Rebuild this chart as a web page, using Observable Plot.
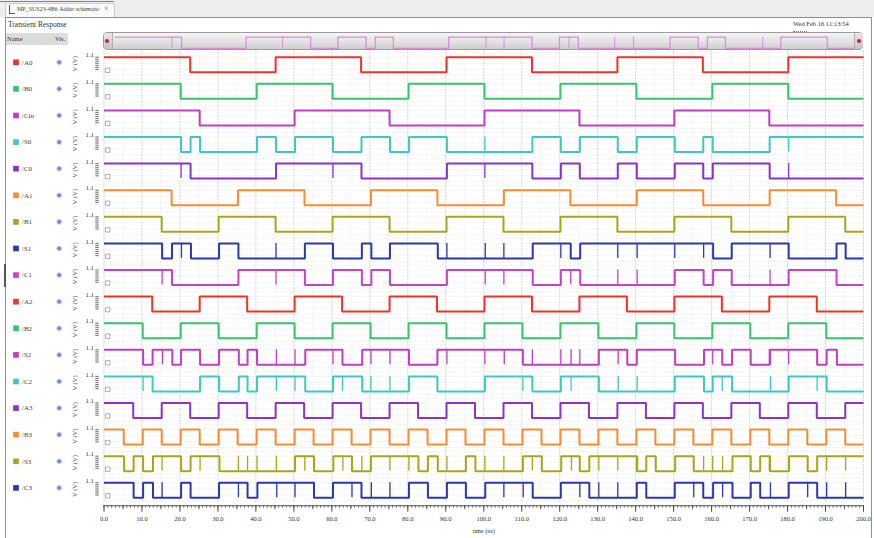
<!DOCTYPE html>
<html>
<head>
<meta charset="utf-8">
<script src="https://cdn.jsdelivr.net/npm/d3@7"></script>
<script src="https://cdn.jsdelivr.net/npm/@observablehq/plot@0.6"></script>
<style>
  html, body { margin: 0; padding: 0; background: #fff; }
  #page { position: relative; width: 874px; height: 538px; overflow: hidden; background: #fff;
          font-family: "Liberation Serif", "DejaVu Serif", serif; color: #333; }
  .a { position: absolute; white-space: nowrap; }
  #main, #over { position: absolute; left: 0; top: 0; }
</style>
</head>
<body>
<div id="page">
  <div class="a" style="left:0;top:0;width:874px;height:17px;background:#eeeeee;"></div>
  <div class="a" style="left:0;top:1px;width:114px;height:1px;background:#e05a5a;"></div>
  <div class="a" style="left:5px;top:3px;width:108px;height:14px;background:#fafafa;border:1px solid #cfcfcf;border-bottom:none;"></div>
  <div class="a" style="left:9px;top:5px;width:5px;height:8px;border-left:1.5px solid #555;border-bottom:1.5px solid #555;"></div>
  <div class="a" style="left:17px;top:6px;font-size:6px;color:#444;">MP_SUS23-4Bit Adder schematic</div>
  <div class="a" style="left:104px;top:4px;font-size:8px;color:#666;">×</div>
  <div class="a" style="left:5px;top:17px;width:865px;height:530px;border:1px solid #e36b6b;"></div>
  <div class="a" style="left:8px;top:20px;font-size:7.5px;color:#333;">Transient Response</div>
  <div class="a" style="left:793px;top:20px;font-size:6.5px;color:#333;">Wed Feb 16 11:13:54</div>
  <div class="a" style="left:793px;top:31px;width:14px;height:0;border-top:1px dotted #777;"></div>
  <div class="a" style="left:6px;top:33px;width:62px;height:12px;background:#dcdcdc;"></div>
  <div class="a" style="left:7px;top:35px;font-size:6.5px;color:#333;">Name</div>
  <div class="a" style="left:55px;top:35px;font-size:6.5px;color:#333;">Vis.</div>
  <div class="a" style="left:4px;top:264px;width:2px;height:23px;background:#555;"></div>
  <div id="main"></div>
  <div class="a" style="left:103px;top:32px;width:758px;height:16px;border:1px solid #9c9c9c;border-radius:4px;background:linear-gradient(#f4f4f4,#e2e2e2 55%,#cdcdcd);"></div>
  <div class="a" style="left:104px;top:33px;width:8px;height:16px;border-right:1px solid #b0b0b0;border-radius:3px 0 0 3px;background:linear-gradient(#e8e8e8,#c4c4c4);"></div>
  <div class="a" style="left:105px;top:39px;width:4px;height:4px;border-radius:2px;background:#d42020;"></div>
  <div class="a" style="left:854px;top:33px;width:8px;height:16px;border-left:1px solid #b0b0b0;border-radius:0 3px 3px 0;background:linear-gradient(#e8e8e8,#c4c4c4);"></div>
  <div class="a" style="left:857px;top:39px;width:4px;height:4px;border-radius:2px;background:#d42020;"></div>
  <div id="over"></div>
</div>
<script>
// ---- data (times in ns at which each signal toggles; all signals start at 1.1 V) ----
const vHigh = 1.1, vLow = 0, tEnd = 200;
const names = ["/A0","/B0","/Cin","/S0","/C0","/A1","/B1","/S1","/C1","/A2","/B2","/S2","/C2","/A3","/B3","/S3","/C3"];
const colors = ["#f1322c","#36c46c","#c23dc4","#3dc7c7","#8c33c9","#fc8a2e","#aba51e","#2c37b0",
                "#c942c6","#f1322c","#36c46c","#c23dc4","#3dc7c7","#8c33c9","#fc8a2e","#aba51e","#2c37b0"];

const edgesA0  = [22.7, 45.2, 67.7, 90.2, 112.7, 135.2, 157.7, 180.2];
const edgesB0  = [20.2, 40.2, 60.2, 80.2, 100.2, 120.2, 140.2, 160.2, 180.2];
const edgesCin = [25.2, 50.2, 75.2, 100.2, 125.2, 150.2, 175.2];
const edgesS0  = [20.3, 22.8, 25.3, 40.3, 45.3, 50.3, 60.3, 67.8, 75.3, 80.3, 90.3, 112.8, 120.3, 125.3, 135.3, 140.3, 150.3, 157.8, 160.3, 175.3];
const edgesC0  = [22.8, 45.3, 67.8, 90.3, 112.8, 120.3, 125.3, 135.3, 140.3, 150.3, 157.8, 160.3, 175.3];
const edgesA1  = [17.8, 35.3, 52.8, 70.3, 87.8, 105.3, 122.8, 140.3, 157.8, 175.3, 192.8];
const edgesB1  = [15.2, 30.2, 45.2, 60.2, 75.2, 90.2, 105.2, 120.2, 135.2, 150.2, 165.2, 180.2, 195.2];
const edgesS1  = [15.3, 17.9, 22.9, 30.3, 35.4, 52.9, 60.3, 67.9, 70.4, 75.3, 87.9, 112.9, 122.9, 125.4, 160.4, 165.3, 180.3, 192.9, 195.3];
const edgesC1  = [17.9, 35.4, 52.9, 60.3, 67.9, 70.4, 75.3, 90.3, 112.9, 120.3, 125.4, 150.3, 157.9, 160.4, 165.3, 180.3, 192.9];
const edgesA2  = [12.7, 25.2, 37.7, 50.2, 62.7, 75.2, 87.7, 100.2, 112.7, 125.2, 137.7, 150.2, 162.7, 175.2, 187.7];
const edgesB2  = [10.2, 20.2, 30.2, 40.2, 50.2, 60.2, 70.2, 80.2, 90.2, 100.2, 110.2, 120.2, 130.2, 140.2, 150.2, 160.2, 170.2, 180.2, 190.2];
const edgesS2  = [10.3, 12.8, 18.0, 20.3, 25.3, 30.3, 35.5, 37.8, 40.3, 53.0, 62.8, 68.0, 80.3, 87.8, 110.3, 130.3, 137.8, 140.3, 150.4, 158.0, 162.8, 165.4, 170.3, 175.3, 187.8, 190.3, 193.0];
const edgesC2  = [12.8, 25.3, 30.3, 35.5, 37.8, 40.3, 53.0, 60.3, 68.0, 80.3, 87.8, 100.3, 112.8, 120.3, 130.3, 150.3, 158.0, 160.3, 165.4, 180.3, 190.3];
const edgesA3  = [7.7, 15.2, 22.7, 30.2, 37.7, 45.2, 52.7, 60.2, 67.7, 75.2, 82.7, 90.2, 97.7, 105.2, 112.7, 120.2, 127.7, 135.2, 142.7, 150.2, 157.7, 165.2, 172.7, 180.2, 187.7, 195.2];
const edgesB3  = [5.2, 10.2, 15.2, 20.2, 25.2, 30.2, 35.2, 40.2, 45.2, 50.2, 55.2, 60.2, 65.2, 70.2, 75.2, 80.2, 85.2, 90.2, 95.2, 100.2,
                  105.2, 110.2, 115.2, 120.2, 125.2, 130.2, 135.2, 140.2, 145.2, 150.2, 155.2, 160.2, 165.2, 170.2, 175.2, 180.2, 185.2, 190.2, 195.2];
const edgesS3  = [5.3, 7.8, 10.3, 12.9, 20.3, 22.8, 30.4, 50.3, 55.3, 60.4, 65.3, 70.3, 82.8, 85.3, 87.9, 95.3, 97.8, 110.3, 115.3, 120.4,
                  125.3, 127.8, 140.3, 142.8, 145.3, 150.4, 155.3, 165.5, 170.3, 172.8, 175.3, 180.4, 185.3, 187.8];
const edgesC3  = [7.8, 10.3, 12.9, 20.3, 22.8, 30.3, 37.8, 40.4, 55.3, 60.3, 67.8, 80.3, 85.3, 90.3, 95.3, 100.4, 112.9, 120.3, 127.8, 140.3,
                  142.8, 150.3, 157.8, 160.4, 165.5, 170.3, 172.8, 180.3, 187.8];

// short glitch spikes (ns)
const glitchS0 = [100.3, 180.3];
const glitchC0 = [20.3, 60.3, 100.3, 180.3];
const glitchS1 = [20.4, 45.3, 90.3, 100.4, 105.3, 120.3, 135.3, 140.4, 150.3, 157.9, 175.4];
const glitchC1 = [15.3, 45.3, 100.4, 105.3, 122.9, 135.3, 140.4, 175.4];
const glitchS2 = [15.4, 45.4, 50.3, 60.3, 70.3, 75.3, 90.3, 100.3, 105.4, 112.8, 120.3, 123.0, 125.3, 135.4, 160.3, 175.5, 180.3];
const glitchC2 = [10.3, 45.4, 50.3, 62.8, 70.3, 75.3, 110.3, 123.0, 135.4, 140.4, 162.8, 175.5, 187.8];
const glitchS3 = [15.3, 25.3, 35.4, 37.8, 40.3, 45.4, 52.9, 62.9, 67.9, 75.3, 80.3, 90.3, 100.3, 105.3, 112.8, 123.1, 130.3, 135.3,
                  140.5, 157.9, 160.3, 162.9, 175.5, 190.3, 195.3];
const glitchC3 = [15.3, 35.4, 45.5, 50.3, 65.3, 70.4, 75.3, 105.3, 110.4, 125.3, 130.3, 135.3, 155.3, 162.9, 175.5, 185.3, 190.3, 195.3];

const xTicks = [0, 10, 20, 30, 40, 50, 60, 70, 80, 90, 100, 110, 120, 130, 140, 150, 160, 170, 180, 190, 200];
const midTicks = [5, 15, 25, 35, 45, 55, 65, 75, 85, 95, 105, 115, 125, 135, 145, 155, 165, 175, 185, 195];

// ---- assemble ----
const edges = [edgesA0, edgesB0, edgesCin, edgesS0, edgesC0, edgesA1, edgesB1, edgesS1, edgesC1,
               edgesA2, edgesB2, edgesS2, edgesC2, edgesA3, edgesB3, edgesS3, edgesC3];
const glitches = [[], [], [], glitchS0, glitchC0, [], [], glitchS1, glitchC1,
                  [], [], glitchS2, glitchC2, [], [], glitchS3, glitchC3];

function steps(name, color, list) {
  let v = vHigh;
  const pts = [{name, color, t: 0, v}];
  for (const t of list) { v = (v === vHigh) ? vLow : vHigh; pts.push({name, color, t, v}); }
  pts.push({name, color, t: tEnd, v});
  return pts;
}
const waveData = names.flatMap((n, i) => steps(n, colors[i], edges[i]));
const glitchData = names.flatMap((n, i) => glitches[i].map(t => ({name: n, color: colors[i], t})));
const rows = names.map((n, i) => ({name: n, color: colors[i]}));
const lastRow = [{name: names[names.length - 1]}];
const minorTicks = d3.range(0, 201, 1);
const yDomain = [-0.36, 1.59];
const font = "Liberation Serif";

const main = Plot.plot({
  width: 874, height: 538,
  marginTop: 50, marginBottom: 35.8, marginLeft: 103.5, marginRight: 11,
  style: {background: "transparent", fontFamily: font, fontSize: "7px", overflow: "visible"},
  x: {domain: [0, tEnd], axis: null},
  y: {domain: yDomain, axis: null},
  fy: {domain: names, padding: 0, round: false, axis: null},
  color: {type: "identity"},
  marks: [
    Plot.gridX({ticks: midTicks, stroke: "#e9e9e9", strokeOpacity: 1, strokeDasharray: "1,1.5"}),
    Plot.gridX({ticks: xTicks, stroke: "#d5d5d5", strokeOpacity: 1, strokeDasharray: "2,1"}),
    Plot.gridY({ticks: [-0.22, 0.22, 0.66, 1.1, 1.45], stroke: "#e3e3e3", strokeOpacity: 1, strokeDasharray: "1,2"}),
    Plot.axisY({ticks: [0.2, 0.35, 0.5, 0.65, 0.8, 0.95, 1.1], tickSize: 3.4, dx: -4.8, tickFormat: () => "",
                stroke: "#777", strokeWidth: 1.1, label: null}),
    Plot.text(rows, {fy: "name", frameAnchor: "top-left", text: () => "1.1", dx: -18.5, dy: 2,
                     fontSize: 6.8, fill: "#333", fontFamily: font}),
    Plot.text(rows, {fy: "name", frameAnchor: "left", text: () => "V (V)", rotate: -90, dx: -29.5,
                     textAnchor: "middle", lineAnchor: "middle", fontSize: 6.5, fill: "#555", fontFamily: font}),
    Plot.dot(rows, {fy: "name", frameAnchor: "left", dx: -88, dy: -1.5, symbol: "square", r: 3.2,
                    fill: d => d.color, stroke: null}),
    Plot.text(rows, {fy: "name", frameAnchor: "left", text: "name", dx: -82, dy: -1.5, textAnchor: "start",
                     fontSize: 7, fill: "#444", fontFamily: font}),
    Plot.dot(rows, {fy: "name", frameAnchor: "left", dx: -44.8, dy: -1.5, r: 2.4,
                    fill: "#6a8ed0", stroke: "#c6d3ee", strokeWidth: 1}),
    Plot.dot(rows, {fy: "name", frameAnchor: "top-left", dx: 3.7, dy: 19.7, symbol: "square", r: 2.5,
                    fill: "white", stroke: "#9a9a9a", strokeWidth: 0.8}),
    Plot.line(waveData, {fy: "name", x: "t", y: "v", z: "name", stroke: d => d.color,
                         curve: "step-after", strokeWidth: 2, strokeLinejoin: "miter", strokeLinecap: "butt"}),
    Plot.ruleX(glitchData, {fy: "name", x: "t", y1: vLow, y2: vHigh, stroke: d => d.color, strokeWidth: 1.3}),
    Plot.ruleY(lastRow, {fy: "name", y: yDomain[0], dy: 3, stroke: "#555", strokeWidth: 1}),
    Plot.axisX({ticks: minorTicks, tickSize: 2.5, dy: 3, tickFormat: () => "", stroke: "#666", label: null}),
    Plot.axisX({ticks: midTicks, tickSize: 4, dy: 3, tickFormat: () => "", stroke: "#555", label: null}),
    Plot.axisX({ticks: xTicks, tickSize: 6.5, tickPadding: 4.5, dy: 3, tickFormat: d3.format(".1f"),
                stroke: "#444", fill: "#333", fontSize: 6.5, label: null}),
    Plot.text(lastRow, {fy: "name", frameAnchor: "bottom", text: () => "time (ns)", dy: 30,
                        fontSize: 6.3, fill: "#333", fontFamily: font})
  ]
});
document.getElementById("main").appendChild(main);

// overview strip (thumbnail of /C1)
const c1 = names.indexOf("/C1");
const over = Plot.plot({
  width: 874, height: 55,
  marginTop: 36.7, marginBottom: 7.2, marginLeft: 115, marginRight: 21,
  style: {background: "transparent"},
  x: {domain: [0, tEnd], axis: null},
  y: {domain: [vLow, vHigh], axis: null},
  marks: [
    Plot.line(steps(names[c1], colors[c1], edges[c1]), {x: "t", y: "v", curve: "step-after",
              stroke: "#d98bdc", strokeWidth: 1.3}),
    Plot.ruleX(glitches[c1], {x: d => d, y1: vLow, y2: vHigh, stroke: "#d98bdc", strokeWidth: 1})
  ]
});
document.getElementById("over").appendChild(over);
</script>
</body>
</html>
